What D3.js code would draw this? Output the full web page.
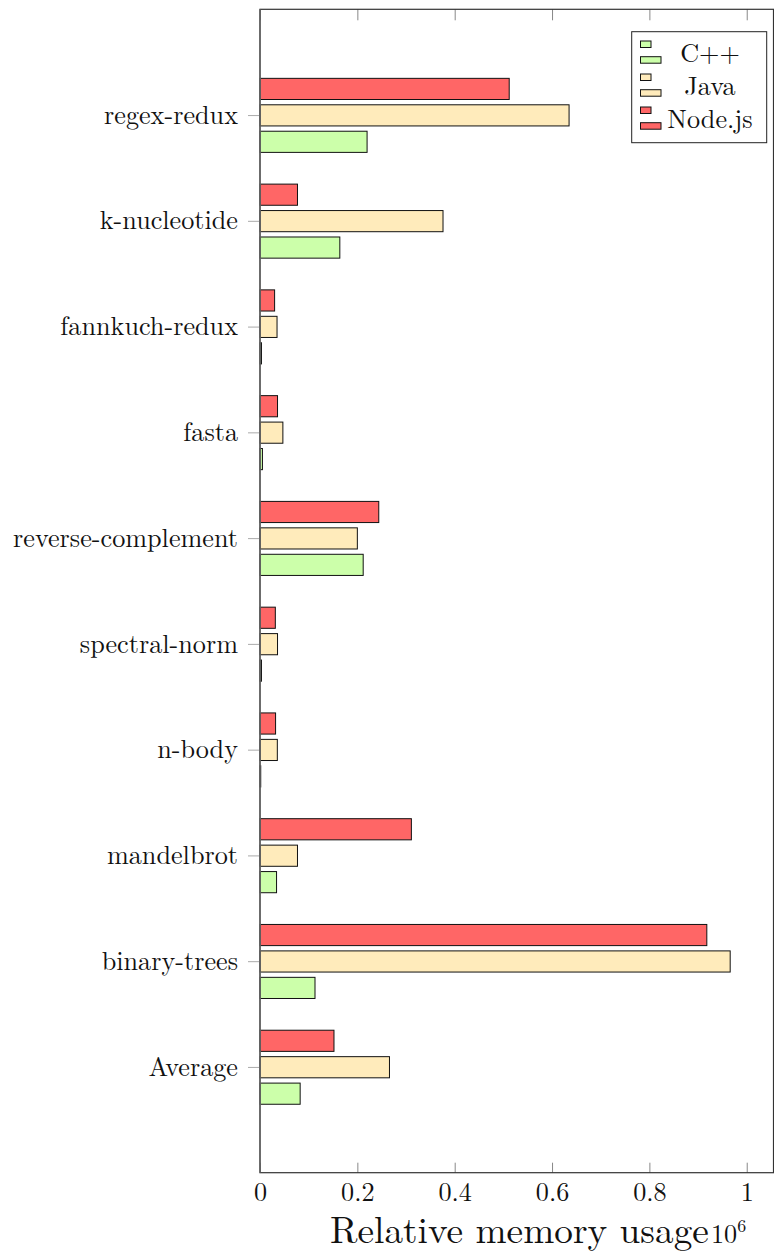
<!DOCTYPE html>
<html>
<head>
<meta charset="utf-8">
<script src="https://cdn.jsdelivr.net/npm/d3@7"></script>
<style>
  html, body { margin: 0; padding: 0; background: #fff; }
  svg { display: block; }
</style>
</head>
<body>
<svg id="chart" width="774" height="1252"></svg>
<script>
const categories = ["regex-redux", "k-nucleotide", "fannkuch-redux", "fasta", "reverse-complement",
                    "spectral-norm", "n-body", "mandelbrot", "binary-trees", "Average"];
const seriesNames = ["C++", "Java", "Node.js"];
const cppValues  = [0.220, 0.164, 0.003, 0.005, 0.212, 0.003, 0.0015, 0.034, 0.113, 0.0825];
const javaValues = [0.635, 0.376, 0.035, 0.047, 0.200, 0.036, 0.0356, 0.077, 0.966, 0.266];
const nodeValues = [0.512, 0.077, 0.030, 0.036, 0.244, 0.0315, 0.032, 0.311, 0.918, 0.152];
const xTickValues = [0, 0.2, 0.4, 0.6, 0.8, 1];
const xTickLabels = ["0", "0.2", "0.4", "0.6", "0.8", "1"];
const xAxisTitle = "Relative memory usage";
const xScaleLabel = ["10", "6"];

const seriesColors = ["#ccffaa", "#ffebbb", "#ff6666"];

(function () {
const FONT = '"Latin Modern Roman", "Liberation Serif", serif';
const svg = d3.select("#chart");
const pLeft = 260, pRight = 773.5, pTop = 9.3, pBottom = 1172.7;

const x = d3.scaleLinear().domain([0, 1.055]).range([pLeft, pRight]);
const y = d3.scaleLinear().domain([-1, categories.length]).range([pTop, pBottom]);
const unit = y(1) - y(0);
const barH = unit * 0.2;
// offsets: Node.js above, Java centre, C++ below
const offsets = [0.25, 0.0, -0.25];

const series = [cppValues, javaValues, nodeValues];

// bars
series.forEach((vals, s) => {
  svg.append("g").selectAll("rect")
    .data(vals)
    .join("rect")
    .attr("x", x(0))
    .attr("y", (d, i) => y(i) + offsets[s] * unit - barH / 2 + 0.3)
    .attr("width", d => x(d) - x(0))
    .attr("height", barH)
    .attr("fill", seriesColors[s])
    .attr("stroke", "#111")
    .attr("stroke-width", 1);
});

// bottom axis
const xAxis = d3.axisBottom(x).tickValues(xTickValues)
  .tickFormat((d, i) => xTickLabels[i])
  .tickSizeInner(-10).tickSizeOuter(0).tickPadding(9.4);
const gx = svg.append("g").attr("transform", `translate(0,${pBottom})`).call(xAxis);
gx.select(".domain").remove();
gx.selectAll(".tick line").attr("stroke", "#888");
gx.selectAll(".tick text").attr("font-size", 26.2).style("font-family", FONT).attr("fill", "#111");

// top axis ticks
const xTop = d3.axisTop(x).tickValues(xTickValues).tickFormat("")
  .tickSizeInner(-11).tickSizeOuter(0);
const gt = svg.append("g").attr("transform", `translate(0,${pTop})`).call(xTop);
gt.select(".domain").remove();
gt.selectAll(".tick line").attr("stroke", "#888");

// left axis
const yAxis = d3.axisLeft(y).tickValues(d3.range(categories.length))
  .tickFormat(i => categories[i]).tickSizeInner(12).tickSizeOuter(0).tickPadding(10);
const gy = svg.append("g").attr("transform", `translate(${pLeft},0)`).call(yAxis);
gy.select(".domain").remove();
gy.selectAll(".tick line").attr("stroke", "#aaa");
gy.selectAll(".tick text").attr("font-size", 26.2).style("font-family", FONT)
  .attr("fill", "#111").attr("dy", "0.31em");

// frame
svg.append("rect")
  .attr("x", pLeft).attr("y", pTop)
  .attr("width", pRight - pLeft).attr("height", pBottom - pTop)
  .attr("fill", "none").attr("stroke", "#333").attr("stroke-width", 1.2);
svg.append("line")
  .attr("x1", pLeft).attr("x2", pLeft).attr("y1", pTop).attr("y2", pBottom)
  .attr("stroke", "#666").attr("stroke-width", 1.6);

// axis title
const title = svg.append("text")
  .attr("x", 330).attr("y", 1243)
  .attr("font-size", 37.3).style("font-family", FONT).attr("fill", "#111");
title.append("tspan").text(xAxisTitle);
title.append("tspan").attr("x", 711).attr("font-size", 26.2).text(xScaleLabel[0]);
title.append("tspan").attr("font-size", 18).attr("dy", -11).text(xScaleLabel[1]);

// legend
const lg = svg.append("g");
lg.append("rect")
  .attr("x", 631.7).attr("y", 31.7).attr("width", 135).attr("height", 111)
  .attr("fill", "#fff").attr("stroke", "#222").attr("stroke-width", 1);
const legendY = d3.scaleLinear().domain([0, 2]).range([52, 118]);
seriesNames.forEach((name, s) => {
  const cy = legendY(s);
  lg.append("rect").attr("x", 640.5).attr("y", cy - 11).attr("width", 10.5).attr("height", 6.5)
    .attr("fill", seriesColors[s]).attr("stroke", "#111").attr("stroke-width", 1);
  lg.append("rect").attr("x", 640.5).attr("y", cy + 4.7).attr("width", 20.5).attr("height", 6.5)
    .attr("fill", seriesColors[s]).attr("stroke", "#111").attr("stroke-width", 1);
  lg.append("text").attr("x", 710).attr("y", cy + 10)
    .attr("text-anchor", "middle").attr("font-size", 26.2)
    .style("font-family", FONT).attr("fill", "#111").text(name);
});
})();
</script>
</body>
</html>
